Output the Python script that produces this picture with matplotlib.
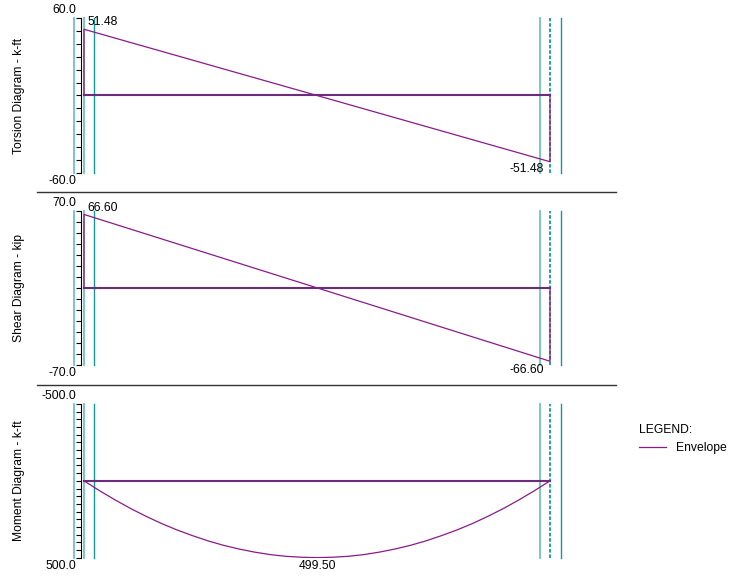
import matplotlib.pyplot as plt
from matplotlib.lines import Line2D

plt.rcParams['font.family'] = ['Liberation Sans', 'DejaVu Sans']
plt.rcParams['font.size'] = 8.7

# beam geometry (ft)
span = [0.0, 30.0]
supports_light = [-0.65, 0.0, 29.35]
supports_dark = [0.65, 30.7]
support_dashed = [30.0]

# end values
torsion_ends = [51.48, -51.48]
shear_ends = [66.60, -66.60]

# moment envelope at stations along the span (k-ft, sagging drawn downward)
moment_x = [0, 1, 2, 3, 4, 5, 6, 7, 8, 9, 10, 11, 12, 13, 14, 15,
            16, 17, 18, 19, 20, 21, 22, 23, 24, 25, 26, 27, 28, 29, 30]
moment_vals = [0, 64, 124, 180, 231, 278, 320, 357, 391, 420, 444, 464, 480, 491, 497, 499.5,
               497, 491, 480, 464, 444, 420, 391, 357, 320, 278, 231, 180, 124, 64, 0]

purple = '#8a1a8a'
base_col = '#6b2d7b'
light_teal = '#72c2c2'
dark_teal = '#159797'

fig = plt.figure(figsize=(7.3, 5.76), dpi=100)
W, H = 730, 576

# panel boxes in pixels: left, top, right, bottom
boxes = [(81, 18.3, 616, 172.7), (81, 210.7, 616, 365.0), (81, 404.0, 616, 557.7)]
px_per_ft = 466 / 30.0
xlim = ((81 - 84) / px_per_ft, (616 - 84) / px_per_ft)


def make_axes(box, ylim, step, ylabel):
    l, t, r, b = box
    ax = fig.add_axes([l / W, 1 - b / H, (r - l) / W, (b - t) / H])
    ax.set_xlim(xlim)
    ax.set_ylim(ylim)
    for s in ['top', 'right', 'bottom']:
        ax.spines[s].set_visible(False)
    ax.spines['left'].set_linewidth(0.8)
    ax.set_xticks([])
    lo, hi = min(ylim), max(ylim)
    ticks = list(range(int(lo), int(hi) + 1, step))
    ax.set_yticks(ticks)
    ax.set_yticklabels([])
    ax.tick_params(axis='y', length=3.4, width=0.8)
    ax.set_ylabel(ylabel)
    ax.yaxis.set_label_coords(-0.105, 0.5)
    # axis end labels
    ax.annotate(f"{ylim[1]:.1f}", xy=(0, 1), xycoords='axes fraction',
                xytext=(-5, 8), textcoords='offset pixels', ha='right', va='center')
    ax.annotate(f"{ylim[0]:.1f}", xy=(0, 0), xycoords='axes fraction',
                xytext=(-5, -8), textcoords='offset pixels', ha='right', va='center')
    for xv in supports_light:
        ax.axvline(xv, color=light_teal, lw=1.3, zorder=1, clip_on=False)
    for xv in supports_dark:
        ax.axvline(xv, color=dark_teal, lw=1.0, zorder=1, clip_on=False)
    for xv in support_dashed:
        ax.axvline(xv, color=dark_teal, lw=1.3, ls=(0, (2, 1)), zorder=1)
    ax.plot(span, [0, 0], color=base_col, lw=1.5, zorder=3)
    return ax


# torsion
ax1 = make_axes(boxes[0], (-60, 60), 10, 'Torsion Diagram - k-ft')
ax1.plot([span[0], span[0], span[1], span[1]], [0, torsion_ends[0], torsion_ends[1], 0],
         color=purple, lw=0.9, zorder=4)
ax1.annotate(f"{torsion_ends[0]:.2f}", xy=(span[0], torsion_ends[0]), xytext=(3, 4),
             textcoords='offset pixels', ha='left', va='baseline')
ax1.annotate(f"{torsion_ends[1]:.2f}", xy=(span[1], torsion_ends[1]), xytext=(-6, -1),
             textcoords='offset pixels', ha='right', va='top')

# shear
ax2 = make_axes(boxes[1], (-70, 70), 10, 'Shear Diagram - kip')
ax2.plot([span[0], span[0], span[1], span[1]], [0, shear_ends[0], shear_ends[1], 0],
         color=purple, lw=0.9, zorder=4)
ax2.annotate(f"{shear_ends[0]:.2f}", xy=(span[0], shear_ends[0]), xytext=(3, 3),
             textcoords='offset pixels', ha='left', va='baseline')
ax2.annotate(f"{shear_ends[1]:.2f}", xy=(span[1], shear_ends[1]), xytext=(-6, -3),
             textcoords='offset pixels', ha='right', va='top')

# moment (positive plotted downward)
ax3 = make_axes(boxes[2], (500, -500), 50, 'Moment Diagram - k-ft')
env, = ax3.plot(moment_x, moment_vals, color=purple, lw=0.9, zorder=4)
i_max = moment_vals.index(max(moment_vals))
ax3.annotate(f"{moment_vals[i_max]:.2f}", xy=(moment_x[i_max], moment_vals[i_max]),
             xytext=(0, -2), textcoords='offset pixels', ha='center', va='top')

# panel separators
for y in [191.7, 384.5]:
    fig.add_artist(Line2D([37 / W, 616 / W], [1 - y / H, 1 - y / H],
                          color='#333333', lw=1.0))

# legend
leg_handle = Line2D([], [], color=purple, lw=0.9)
fig.legend([leg_handle], ['Envelope'], title='LEGEND:', loc='upper left',
           bbox_to_anchor=(639 / W, 1 - 424 / H), frameon=False, alignment='left',
           borderpad=0, borderaxespad=0, handlelength=2.2, handletextpad=0.9,
           title_fontsize=8.7)

plt.savefig('out.png', dpi=100)
plt.close()
